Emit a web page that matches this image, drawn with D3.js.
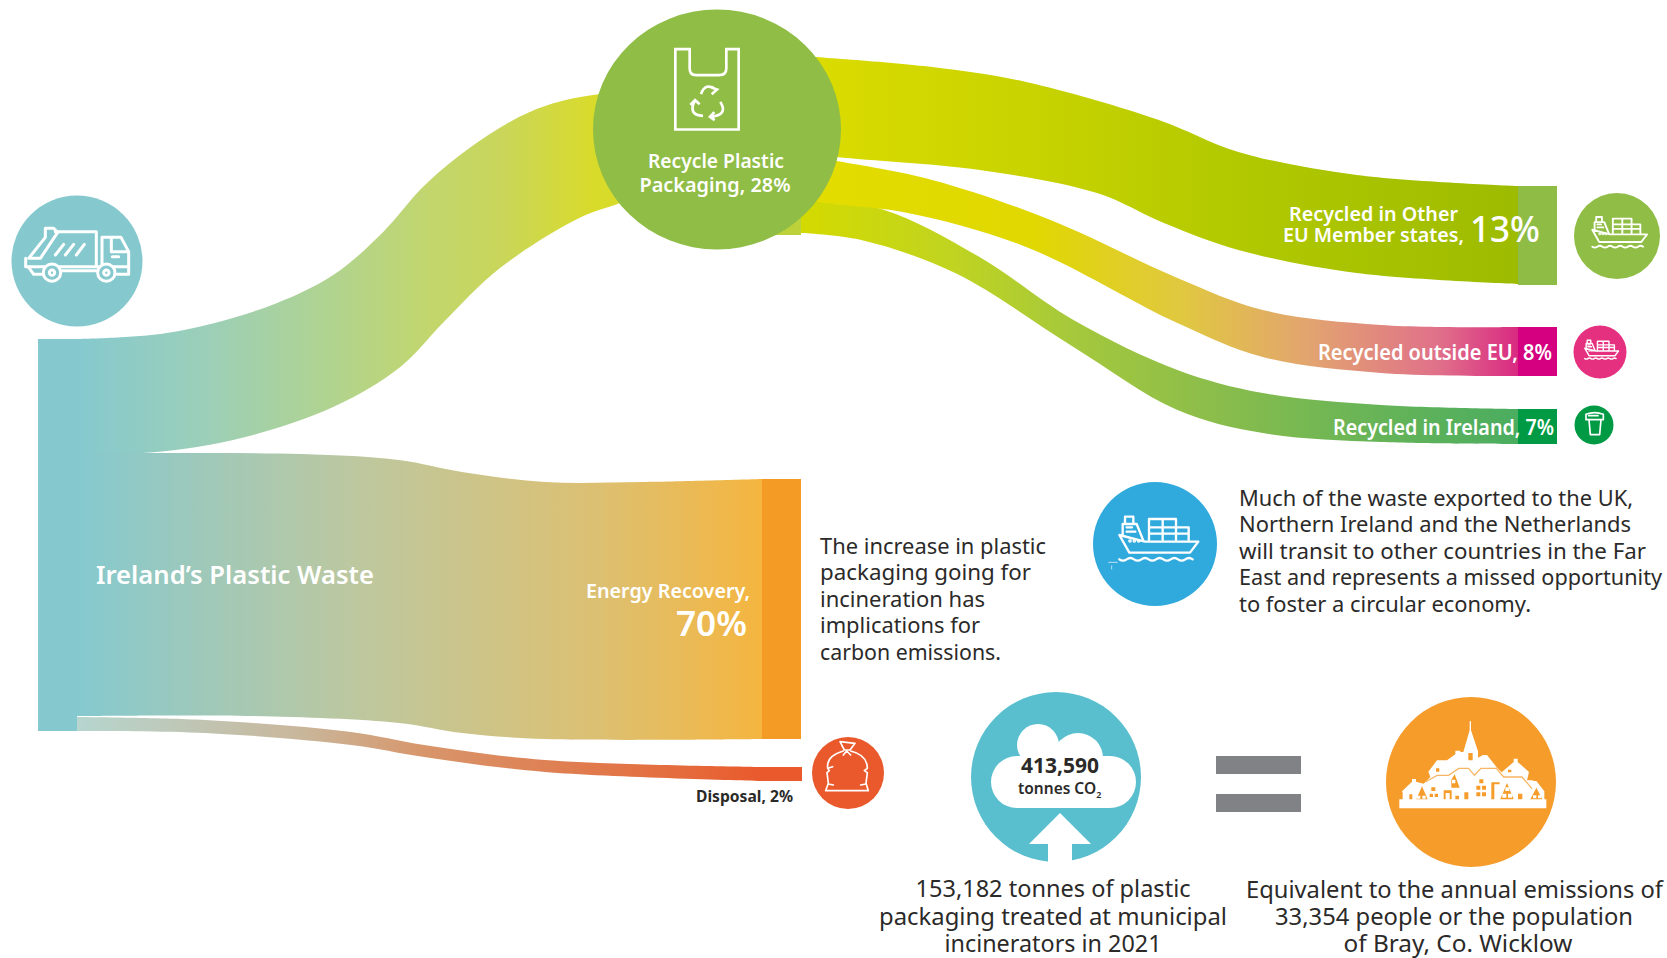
<!DOCTYPE html>
<html>
<head>
    <meta charset="utf-8">
    <script src="https://cdn.jsdelivr.net/npm/d3@7/dist/d3.min.js"></script>
    <title>Ireland's Plastic Waste</title>
    <style>
        * {
            margin: 0;
            padding: 0;
        }

        body {
            background: white;
        }

        svg {
            display: block;
        }

        text {
            font-family: "Noto Sans", "Open Sans", sans-serif;
        }
    </style>
</head>
<body>
    <svg id="chart" width="1667" height="958"></svg>
    <script>
        // values: share of plastic packaging waste, %
        var nodeNames = ["Ireland's Plastic Waste", "Recycle Plastic Packaging", "Energy Recovery", "Disposal",
            "Recycled in Other EU Member states", "Recycled outside EU", "Recycled in Ireland"];
        var nodeShares = [100, 28, 70, 2, 13, 8, 7];
        var linkSources = [0, 0, 0, 1, 1, 1];
        var linkTargets = [1, 2, 3, 4, 5, 6];

        var co2Tonnes = 413590;
        var incineratedTonnes = 153182;
        var equivalentPeople = 33354;

        var share = {};
        nodeNames.forEach(function (n, i) { share[n] = nodeShares[i]; });

        var W = 1667, H = 958;
        var svg = d3.select("#chart").attr("viewBox", "0 0 " + W + " " + H);
        var defs = svg.append("defs");
        var fmt = d3.format(",");

        // bar height for a share. The infographic is not drawn to one ratio, so the scale is piecewise
        var barHeight = d3.scaleLinear()
            .domain([0, 2, 7, 8, 13, 28, 70, 100])
            .range([0, 14, 35, 49, 99, 178, 260, 392]);

        var column = d3.scaleOrdinal().domain([0, 1, 2, 3]).range([38, 77, 762, 1518]);
        var barWidth = 39;

        // top of the bar of each node, and its colour
        var nodeStyle = [
            { top: 339, x: column(0), fill: "#85c9cf" },
            { top: 57, x: column(2), fill: "#bcd13a" },
            { top: 479, x: column(2), fill: "#f49b26" },
            { top: 767, x: column(2), fill: "#e9592c" },
            { top: 186, x: column(3), fill: "#8fbc45" },
            { top: 327, x: column(3), fill: "#d4007f" },
            { top: 409, x: column(3), fill: "#009a44" }
        ];

        // link shape: y at both ends of each edge and the bend of the edge as fractions of the run
        var linkStyle = [
            {
                x: [column(1), column(2)],
                top: { y: [339, 90], fx: [.131, .277, .374, .447, .505, .569, .661, .753], fy: [.024, .129, .257, .43, .61, .759, .912, .98] },
                bottom: { y: [453, 150], fx: [.096, .228, .374, .472, .534, .618, .734, .793], fy: [0, .043, .152, .284, .429, .611, .776, .825] },
                stops: [[0, "#85c9cf"], [.19, "#9ccfb8"], [.37, "#b0d38f"], [.515, "#c2d66d"], [.62, "#c9d65a"], [.756, "#d9db2a"], [1, "#d9db2a"]]
            },
            {
                x: [column(1), column(2)],
                top: { y: [453, 479], fx: [.117, .328, .47, .562, .683, .825], fy: [0, .04, .27, .73, 1.115, 1.115] },
                bottom: { y: [716, 739], fx: [.258, .47, .562, .683], fy: [0, .3, .74, 1] },
                stops: [[0, "#85c9cf"], [.4, "#bcc8a0"], [.76, "#dcc072"], [1, "#f5b53f"]]
            },
            {
                x: [column(1), column(2)],
                top: { y: [717, 767], fx: [.187, .4, .507, .683], fy: [.06, .3, .56, .86] },
                bottom: { y: [731, 781], fx: [.187, .4, .507, .683], fy: [.04, .28, .52, .82] },
                stops: [[0, "#b6d6cf"], [.33, "#c9b69a"], [.51, "#d8956a"], [.9, "#e5693a"], [1, "#e9592c"]]
            },
            {
                x: [column(2) + barWidth, column(3)],
                top: { y: [56, 186], fx: [.183, .314, .499, .61, .775], fy: [.085, .2, .492, .738, .915] },
                bottom: { y: [152, 284], fx: [.05, .249, .413, .506, .61, .775], fy: [.038, .136, .311, .538, .742, .917] },
                stops: [[0, "#dcdc00"], [.35, "#c6d200"], [.63, "#b0c800"], [1, "#9dbb00"]]
            },
            {
                x: [column(2) + barWidth, column(3)],
                top: { y: [155, 327], fx: [.05, .183, .348, .525, .644, .809], fy: [.035, .145, .378, .715, .901, .988] },
                bottom: { y: [197, 376], fx: [.024, .149, .314, .525, .644, .809], fy: [.028, .089, .279, .704, .894, .983] },
                stops: [[.05, "#e2dc00"], [.32, "#e0d800"], [.53, "#e0c840"], [.71, "#e2a470"], [.89, "#e0708a"], [1, "#d92a82"]]
            },
            {
                x: [column(2) + barWidth, column(3)],
                top: { y: [197, 409], fx: [.116, .249, .38, .525, .644, .809], fy: [.061, .283, .58, .816, .925, .981] },
                bottom: { y: [233, 444], fx: [.084, .215, .38, .525, .644, .809], fy: [.033, .19, .54, .839, .948, .991] },
                stops: [[0, "#d4da00"], [.21, "#c0d420"], [.38, "#a5c83c"], [.56, "#8dbe4a"], [.77, "#6cb556"], [1, "#4aad60"]]
            }
        ];

        var edgeLine = d3.line().curve(d3.curveCatmullRom.alpha(0.5));

        function edgePoints(xs, edge) {
            var x = d3.scaleLinear().domain([0, 1]).range(xs);
            var y = d3.scaleLinear().domain([0, 1]).range(edge.y);
            var pts = [[x(0), y(0)]];
            edge.fx.forEach(function (f, i) { pts.push([x(f), y(edge.fy[i])]); });
            pts.push([x(1), y(1)]);
            return pts;
        }

        function linkPath(s) {
            var up = edgeLine(edgePoints(s.x, s.top));
            var down = edgeLine(edgePoints(s.x, s.bottom).reverse());
            return up + "L" + down.slice(1) + "Z";
        }

        linkStyle.forEach(function (s, i) {
            var grad = defs.append("linearGradient")
                .attr("id", "link" + i)
                .attr("gradientUnits", "userSpaceOnUse")
                .attr("x1", s.x[0]).attr("x2", s.x[1])
                .attr("y1", 0).attr("y2", 0);
            grad.selectAll("stop")
                .data(s.stops)
                .enter()
                .append("stop")
                .attr("offset", function (d) { return d[0]; })
                .attr("stop-color", function (d) { return d[1]; });
        });

        // drawn so that the upper band of each pair stays on top
        svg.append("g").selectAll("path")
            .data([0, 1, 2, 5, 4, 3])
            .enter()
            .append("path")
            .attr("d", function (i) { return linkPath(linkStyle[i]); })
            .attr("fill", function (i) { return "url(#link" + i + ")"; });

        svg.append("g").selectAll("rect")
            .data(nodeShares)
            .enter()
            .append("rect")
            .attr("x", function (d, i) { return nodeStyle[i].x; })
            .attr("y", function (d, i) { return nodeStyle[i].top; })
            .attr("width", function (d, i) { return i == 3 ? barWidth + 1 : barWidth; })
            .attr("height", function (d) { return barHeight(d); })
            .attr("fill", function (d, i) { return nodeStyle[i].fill; });

        // icon circles
        var badges = [
            { name: "truck", x: 77, y: 261, r: 65.5, ry: 65.5, fill: "#85c9cf" },
            { name: "recycle", x: 717, y: 129.5, r: 124, ry: 120, fill: "#90bd45" },
            { name: "ship1", x: 1617, y: 236, r: 43, ry: 43, fill: "#90bd45" },
            { name: "ship2", x: 1600, y: 352, r: 26.5, ry: 26.5, fill: "#e5307f" },
            { name: "cup", x: 1594, y: 425, r: 19.5, ry: 19.5, fill: "#009a44" },
            { name: "bag", x: 848, y: 773, r: 36, ry: 36, fill: "#e9592c" },
            { name: "ship3", x: 1155, y: 544, r: 62, ry: 62, fill: "#30a9dd" },
            { name: "cloud", x: 1056, y: 777, r: 85, ry: 85, fill: "#59bfcf" },
            { name: "town", x: 1471, y: 782, r: 85, ry: 85, fill: "#f59c2b" }
        ];

        svg.append("g").selectAll("ellipse")
            .data(badges)
            .enter()
            .append("ellipse")
            .attr("cx", function (d) { return d.x; })
            .attr("cy", function (d) { return d.y; })
            .attr("rx", function (d) { return d.r; })
            .attr("ry", function (d) { return d.ry; })
            .attr("fill", function (d) { return d.fill; });

        function badge(name) {
            return badges.filter(function (b) { return b.name == name; })[0];
        }

        // icons are traced at 3x, with the origin at the middle of the circle
        function icon(name, k, sw) {
            var b = badge(name);
            return svg.append("g")
                .attr("transform", "translate(" + b.x + "," + b.y + ") scale(" + k + ")")
                .attr("fill", "none")
                .attr("stroke", "white")
                .attr("stroke-width", sw)
                .attr("stroke-linejoin", "round")
                .attr("stroke-linecap", "round");
        }

        // truck
        var truck = icon("truck", 1 / 3, 9).attr("transform", function () {
            return d3.select(this).attr("transform") + " translate(-230,-333)";
        });
        truck.append("path").attr("d", "M76,325V350H385V305L362,262H305V345");
        truck.append("path").attr("d", "M165,245H288V345");
        truck.append("path").attr("d", "M85,325L135,262V235H160L172,247L120,325Z");
        truck.append("path").attr("d", "M333,268V305H384M336,320H355");
        truck.append("path").attr("d", "M165,315L190,283M195,315L220,283M228,315L252,283");
        truck.append("path").attr("d", "M85,352L100,373H125M185,362H288M350,373H385V352");
        [155, 318].forEach(function (cx) {
            truck.append("circle").attr("cx", cx).attr("cy", 368).attr("r", 26).attr("fill", "#85c9cf");
            truck.append("circle").attr("cx", cx).attr("cy", 368).attr("r", 8);
        });

        // carrier bag with the recycling arrows
        var bag = icon("recycle", 1 / 3, 8).attr("transform", function () {
            return d3.select(this).attr("transform") + " translate(-410,-388)";
        });
        bag.attr("stroke-linejoin", "miter").attr("stroke-linecap", "butt");
        bag.append("path").attr("d", "M285,147H328V205Q328,225 348,225H415Q438,225 438,205V147H475V388H285Z");
        bag.append("path").attr("d", "M362,282Q375,245 408,268M394,282L410,268L393,262");
        bag.append("path").attr("d", "M343,302Q322,345 368,347M330,314L344,300L358,312");
        bag.append("path").attr("d", "M420,305Q445,345 390,350M402,336L389,350L403,360");

        // container ship, used three times
        function ship(name, k, sw) {
            var g = icon(name, k / 3, sw).attr("transform", function () {
                return d3.select(this).attr("transform") + " translate(-225,-222)";
            });
            g.append("path").attr("d", "M118,195L195,215H355L330,248H148Z");
            g.append("path").attr("d", "M128,198V162H170L190,212M135,160V140H160V160");
            g.append("path").attr("d", "M140,172H156M140,185H166");
            g.append("path").attr("d", "M207,210V147H288V172H326V210M207,172H288M207,191H326M248,147V210M288,172V210");
            g.append("path").attr("d", "M118,268q11,8 22,0t22,0t22,0t22,0t22,0t22,0t22,0t22,0t22,0t22,0");
            g.selectAll("circle")
                .data([150, 163, 176])
                .enter()
                .append("circle")
                .attr("cx", function (d) { return d; })
                .attr("cy", 213)
                .attr("r", 2)
                .attr("fill", "white");
            return g;
        }
        ship("ship1", 43 / 62, 8);
        ship("ship2", 26.5 / 62, 10);
        ship("ship3", 1, 7).append("path")
            .attr("d", "M86,277H112M95,288V297")
            .attr("stroke-width", 2);

        // recycled cup
        var cup = icon("cup", 1 / 3, 5).attr("transform", function () {
            return d3.select(this).attr("transform") + " translate(-1092,-766)";
        });
        cup.append("path").attr("d", "M1068,734Q1094,724 1120,734V750H1068Z");
        cup.append("path").attr("d", "M1077,750L1081,795H1109L1113,750");
        cup.append("path").attr("d", "M1076,738H1104");

        // rubbish bag
        var sack = icon("bag", 1 / 3, 5).attr("transform", function () {
            return d3.select(this).attr("transform") + " translate(-504,-219)";
        });
        sack.append("path").attr("d", "M493,150L480,125L525,130L510,150Z");
        sack.append("path").attr("d", "M490,153C455,163 440,180 443,205L458,200M443,205L448,212L441,218L445,250L437,272H565L558,250L562,218L553,212L562,205C562,180 550,162 512,153");
        sack.append("path").attr("d", "M445,252L460,255M558,252L542,255M490,165L500,153L512,165");

        // cloud and arrow
        var cb = badge("cloud");
        var cloud = svg.append("g")
            .attr("transform", "translate(" + cb.x + "," + cb.y + ")")
            .attr("fill", "white");
        cloud.selectAll("circle")
            .data([[-18, -32, 21], [22, -19, 25], [-39, 5, 26], [54, 5, 26]])
            .enter()
            .append("circle")
            .attr("cx", function (d) { return d[0]; })
            .attr("cy", function (d) { return d[1]; })
            .attr("r", function (d) { return d[2]; });
        cloud.append("rect").attr("x", -39).attr("y", -21).attr("width", 93).attr("height", 52);
        cloud.append("path").attr("d", "M4,36L35,67H16V86H-8V67H-27Z");

        // equals sign
        svg.append("g").selectAll("rect")
            .data([756, 794])
            .enter()
            .append("rect")
            .attr("x", 1216)
            .attr("y", function (d) { return d; })
            .attr("width", 85)
            .attr("height", 18)
            .attr("fill", "#808285");

        // town
        var tb = badge("town");
        var town = svg.append("g")
            .attr("transform", "translate(" + tb.x + "," + tb.y + ") scale(" + 1 / 3 + ") translate(-392,-305)");
        town.append("path").attr("fill", "white")
            .attr("d", "M187,357V337L185,333L215,304V296H227V304L250,310L270,290L264,274L290,240H320L345,222V211H360V215H369L388,150V123H392V150L413,213V232L428,224H440L470,262L484,276L520,245V235H532V245L566,275L560,300H578V302H588L612,333V357H618V384H177V357Z");
        town.append("path").attr("fill", "none").attr("stroke", "#f7b565").attr("stroke-width", 4)
            .attr("d", "M255,305L290,285H325L355,264H385L402,285L422,264H468L490,290H545L575,325");
        town.append("path").attr("fill", "#f59c2b")
            .attr("d", "M228,357L245,318L262,357ZM384,218H397V240H384ZM207,342H216V357H207ZM310,330H334V357H328V338H316V357H310ZM372,336H384V357H372ZM453,306H478V312H462V357H453ZM480,357L500,308L520,357ZM533,340H546V357H533ZM570,357L588,322L606,357ZM345,346H356V357H345ZM333,298L343,282L358,322H333Z");
        town.append("path").attr("fill", "white")
            .attr("d", "M230,346H240V355H230ZM246,346H256V355H246ZM486,340H498V352H486ZM503,340H515V352H503ZM495,321H507V332H495ZM578,345H588V354H578ZM593,345H603V354H593ZM335,298H345V309H335Z");
        town.append("path").attr("fill", "#f59c2b")
            .attr("d", "M273,321H285V332H273ZM268,340H278V350H268ZM283,340H293V350H283ZM417,297H429V309H417ZM408,316H420V328H408ZM425,316H437V328H425ZM408,336H420V348H408ZM425,336H437V348H425ZM287,264H297V274H287ZM503,268H513V276H503Z");

        // labels, all positions
        function label(x, y, str, size, weight, fill, anchor, width) {
            var t = svg.append("text")
                .attr("x", x)
                .attr("y", y)
                .attr("font-size", size)
                .attr("font-weight", weight)
                .attr("fill", fill)
                .attr("text-anchor", anchor || "start")
                .text(str);
            if (width) {
                t.attr("textLength", width).attr("lengthAdjust", "spacingAndGlyphs");
            }
            return t;
        }

        var ink = "#2b2a29";

        label(96, 584, "Ireland\u2019s Plastic Waste", 26, 600, "white", "start", 278);
        label(716, 168, "Recycle Plastic", 19, 600, "white", "middle", 136);
        label(715, 192, "Packaging, " + share["Recycle Plastic Packaging"] + "%", 19, 600, "white", "middle", 151);
        label(586, 598, "Energy Recovery,", 19, 600, "white", "start", 164);
        label(676, 636, share["Energy Recovery"] + "%", 34, 600, "white", "start", 71);
        label(1289, 221, "Recycled in Other", 20, 600, "white", "start", 169);
        label(1283, 242, "EU Member states,", 20, 600, "white", "start", 181);
        label(1470, 242, share["Recycled in Other EU Member states"] + "%", 36, 500, "white", "start", 70);
        label(1318, 360, "Recycled outside EU, " + share["Recycled outside EU"] + "%", 21, 600, "white", "start", 234);
        label(1333, 435, "Recycled in Ireland, " + share["Recycled in Ireland"] + "%", 21, 600, "white", "start", 221);
        label(696, 802, "Disposal, " + share["Disposal"] + "%", 15.5, 700, ink, "start", 97);

        var paraA = ["The increase in plastic", "packaging going for", "incineration has", "implications for", "carbon emissions."];
        var paraAw = [226, 211, 165, 160, 181];
        paraA.forEach(function (s, i) {
            label(820, [554, 580, 607, 633, 660][i], s, 22, 400, ink, "start", paraAw[i]);
        });

        var paraB = ["Much of the waste exported to the UK,", "Northern Ireland and the Netherlands",
            "will transit to other countries in the Far", "East and represents a missed opportunity", "to foster a circular economy."];
        var paraBw = [394, 392, 407, 423, 292];
        paraB.forEach(function (s, i) {
            label(1239, [506, 532, 559, 585, 612][i], s, 21.5, 400, ink, "start", paraBw[i]);
        });

        label(1060, 773, fmt(co2Tonnes), 21, 700, ink, "middle", 78);
        var co2 = label(1018, 794, "tonnes CO", 15.5, 600, ink, "start");
        co2.append("tspan").attr("dy", 4).attr("font-size", 9).text("2");

        var capA = [fmt(incineratedTonnes) + " tonnes of plastic", "packaging treated at municipal", "incinerators in 2021"];
        var capAw = [275, 348, 217];
        capA.forEach(function (s, i) {
            label(1053, [897, 925, 952][i], s, 24, 400, ink, "middle", capAw[i]);
        });

        var capB = ["Equivalent to the annual emissions of", fmt(equivalentPeople) + " people or the population", "of Bray, Co. Wicklow"];
        var capBw = [417, 358, 229];
        capB.forEach(function (s, i) {
            label([1454.5, 1454, 1458][i], [898, 925, 952][i], s, 24, 400, ink, "middle", capBw[i]);
        });
    </script>
</body>
</html>
